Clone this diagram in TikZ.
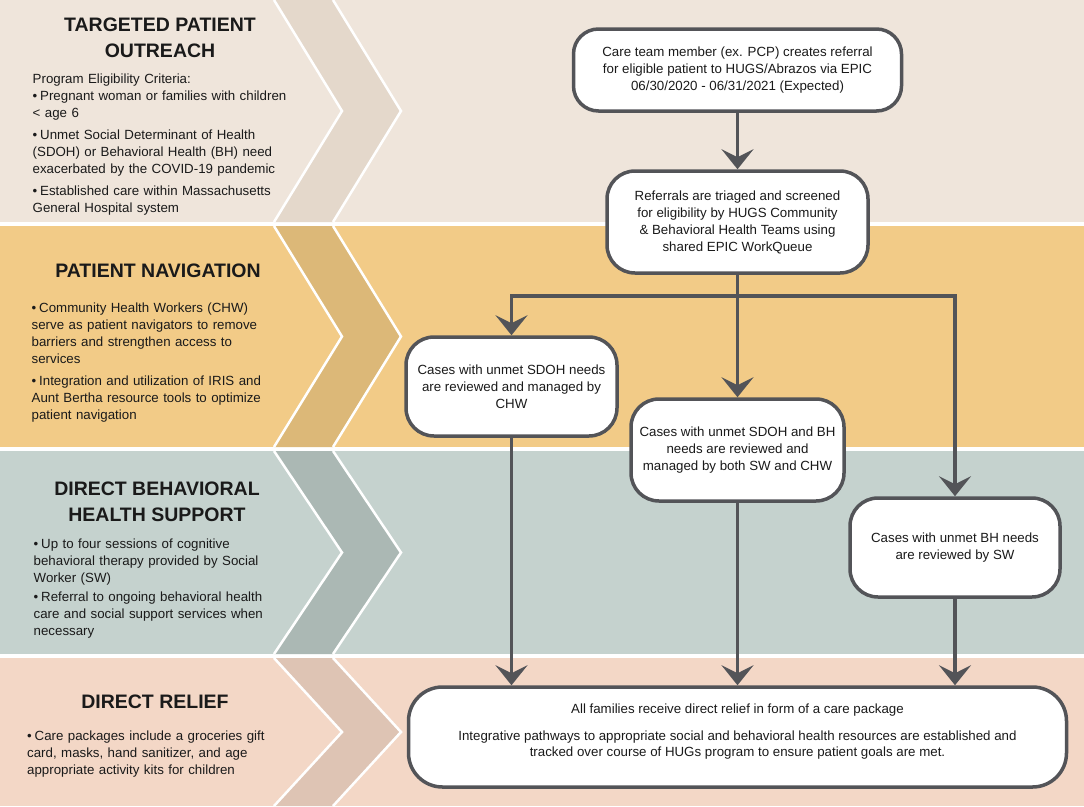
\documentclass[tikz,border=0pt]{standalone}
\usepackage{fontspec}
\setmainfont{Liberation Sans}
\usetikzlibrary{arrows.meta}
\definecolor{bandA}{RGB}{239,229,219}
\definecolor{chevA}{RGB}{228,216,203}
\definecolor{bandB}{RGB}{242,203,135}
\definecolor{chevB}{RGB}{220,184,120}
\definecolor{bandC}{RGB}{197,210,206}
\definecolor{chevC}{RGB}{171,184,180}
\definecolor{bandD}{RGB}{243,215,198}
\definecolor{chevD}{RGB}{222,196,180}
\definecolor{boxc}{RGB}{83,84,88}
\definecolor{txt}{RGB}{26,26,26}
\newcommand\chev[3]{%
  \fill[#3] (274,#1) -- (333,#1) -- (401,{(#1+#2)/2}) -- (333,#2) -- (274,#2) -- (342,{(#1+#2)/2}) -- cycle;
  \draw[white,line width=2.5pt] (274,#1) -- (342,{(#1+#2)/2}) -- (274,#2);
  \draw[white,line width=2.5pt] (333,#1) -- (401,{(#1+#2)/2}) -- (333,#2);}
\newcommand\bfirst{\noindent\hangindent=7.5pt\hangafter=1\makebox[7.5pt][l]{\textbullet}}
\newcommand\bitem[1]{\par\vspace{#1}\bfirst}
\begin{document}
\begin{tikzpicture}[x=1pt,y=-1pt,
  title/.style={font=\fontsize{19.5}{26}\selectfont\bfseries, align=center, inner sep=0, text=txt},
  body/.style={font=\fontsize{13.3}{17}\selectfont, text width=300pt, align=left, anchor=base west, inner sep=0, text=txt},
  box/.style={draw=boxc, line width=3.5pt, fill=white, rounded corners=28pt, align=center, font=\fontsize{13.3}{17}\selectfont, text=txt, inner sep=0},
  arr/.style={draw=boxc, line width=3.5pt, -{Stealth[length=20pt,width=32pt,inset=8pt]}},
  conn/.style={draw=boxc, line width=3.5pt}]
\useasboundingbox (0,0) rectangle (1084,806);
\fill[white] (0,0) rectangle (1084,806);
% bands
\fill[bandA] (0,0) rectangle (1084,222);
\fill[bandB] (0,226) rectangle (1084,447);
\fill[bandC] (0,451) rectangle (1084,654);
\fill[bandD] (0,658) rectangle (1084,806);
\chev{0}{222}{chevA}
\chev{226}{447}{chevB}
\chev{451}{654}{chevC}
\chev{658}{806}{chevD}
% titles
\node[title] (t1) at (160,38) {TARGETED PATIENT\\OUTREACH};
\node[title] (t2) at (158,271) {PATIENT NAVIGATION};
\node[title] (t3) at (157,501.5) {DIRECT BEHAVIORAL\\HEALTH SUPPORT};
\node[title] (t4) at (155,702) {DIRECT RELIEF};
% bodies
\node[body] (b1) at (32.5,83.5) {Program Eligibility Criteria:%
\bitem{0pt}Pregnant woman or families with children\\< age 6%
\bitem{5pt}Unmet Social Determinant of Health\\(SDOH) or Behavioral Health (BH) need\\exacerbated by the COVID-19 pandemic%
\bitem{5pt}Established care within Massachusetts\\General Hospital system};
\node[body] (b2) at (31.5,312.5) {\bfirst Community Health Workers (CHW)\\serve as patient navigators to remove\\barriers and strengthen access to\\services%
\bitem{5pt}Integration and utilization of IRIS and\\Aunt Bertha resource tools to optimize\\patient navigation};
\node[body] (b3) at (33.5,548.5) {\bfirst Up to four sessions of cognitive\\behavioral therapy provided by Social\\Worker (SW)%
\bitem{2pt}Referral to ongoing behavioral health\\care and social support services when\\necessary};
\node[body] (b4) at (27,740.5) {\bfirst Care packages include a groceries gift\\card, masks, hand sanitizer, and age\\appropriate activity kits for children};
% flow boxes
\node[box, minimum width=328pt, minimum height=82pt, rounded corners=25pt] (A) at (737.5,70) {Care team member (ex. PCP) creates referral\\for eligible patient to HUGS/Abrazos via EPIC\\06/30/2020 - 06/31/2021 (Expected)};
\node[box, minimum width=261pt, minimum height=102pt] (B) at (737.5,222) {Referrals are triaged and screened\\for eligibility by HUGS Community\\\& Behavioral Health Teams using\\shared EPIC WorkQueue};
\node[box, minimum width=211pt, minimum height=99pt] (C) at (511.5,386.5) {Cases with unmet SDOH needs\\are reviewed and managed by\\CHW};
\node[box, minimum width=213pt, minimum height=102pt] (D) at (737.5,450) {Cases with unmet SDOH and BH\\needs are reviewed and\\managed by both SW and CHW};
\node[box, minimum width=210pt, minimum height=99pt] (E) at (955,547.5) {Cases with unmet BH needs\\are reviewed by SW};
\node[box, minimum width=658pt, minimum height=100pt, rounded corners=34pt] (F) at (737.5,737) {};
\node[align=center, inner sep=0, text=txt, font=\fontsize{13.3}{16.5}\selectfont] (Ft) at (737.5,731.5) {All families receive direct relief in form of a care package\\[10.5pt]Integrative pathways to appropriate social and behavioral health resources are established and\\tracked over course of HUGs program to ensure patient goals are met.};
% connectors
\coordinate (J) at (737.5,296);
\draw[arr] (A) -- (B);
\draw[arr] (B) -- (D);
\draw[arr] (J) -| (C.north);
\draw[arr] (J) -| (E.north);
\draw[arr] (C.south) -- (C.south |- F.north);
\draw[arr] (D) -- (F);
\draw[arr] (E.south) -- (E.south |- F.north);
\end{tikzpicture}
\end{document}
